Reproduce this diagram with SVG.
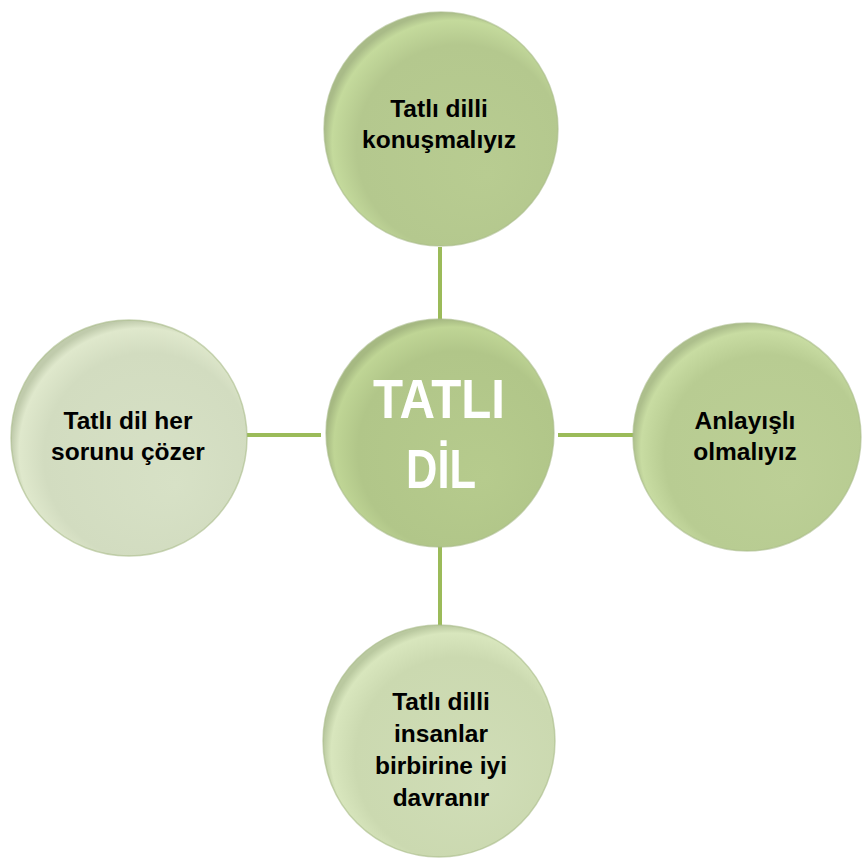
<svg xmlns="http://www.w3.org/2000/svg" width="862" height="863" viewBox="0 0 862 863">
<style>
.lbl{font-family:"Liberation Sans",Arial,sans-serif;font-weight:bold;font-size:24.5px;fill:#000;text-anchor:middle}
.big{font-family:"Liberation Sans",Arial,sans-serif;font-weight:bold;font-size:55px;fill:#fff;text-anchor:middle}
.conn{stroke:#9bbb59;stroke-width:4;fill:none}
.rim{stroke:#a9bb88;stroke-width:1.5;stroke-opacity:0.6}
</style>
<defs>
<radialGradient id="gMid" cx="0.55" cy="0.55" r="0.55" fx="0.7" fy="0.7">
<stop offset="0" stop-color="#b6cb8d"/><stop offset="0.8" stop-color="#b1c689"/><stop offset="0.95" stop-color="#bfd595"/><stop offset="1" stop-color="#a6b982"/>
</radialGradient>
<radialGradient id="gTop" cx="0.55" cy="0.55" r="0.55" fx="0.7" fy="0.7">
<stop offset="0" stop-color="#b8cc91"/><stop offset="0.8" stop-color="#b4c88e"/><stop offset="0.95" stop-color="#c4da9c"/><stop offset="1" stop-color="#a9bb88"/>
</radialGradient>
<radialGradient id="gRight" cx="0.55" cy="0.55" r="0.55" fx="0.7" fy="0.7">
<stop offset="0" stop-color="#bccf96"/><stop offset="0.8" stop-color="#b8cc92"/><stop offset="0.95" stop-color="#c8dca2"/><stop offset="1" stop-color="#adbf8c"/>
</radialGradient>
<radialGradient id="gBot" cx="0.55" cy="0.55" r="0.55" fx="0.7" fy="0.7">
<stop offset="0" stop-color="#d0ddb7"/><stop offset="0.8" stop-color="#cbd9b0"/><stop offset="0.95" stop-color="#d8e6bd"/><stop offset="1" stop-color="#bac9a0"/>
</radialGradient>
<radialGradient id="gLeft" cx="0.55" cy="0.55" r="0.55" fx="0.7" fy="0.7">
<stop offset="0" stop-color="#d7e1c6"/><stop offset="0.8" stop-color="#d2dcc0"/><stop offset="0.95" stop-color="#dfe8cc"/><stop offset="1" stop-color="#c0cbac"/>
</radialGradient>
</defs>
<g id="connectors">
<line class="conn" x1="440" y1="247" x2="440" y2="321"/>
<line class="conn" x1="440" y1="545" x2="440" y2="626"/>
<line class="conn" x1="247" y1="435" x2="321" y2="435"/>
<line class="conn" x1="558" y1="435" x2="634" y2="435"/>
</g>
<g id="node-top">
<circle class="rim" cx="441" cy="129" r="117" fill="url(#gTop)"/>
<text class="lbl" x="439" y="117">Tatlı dilli</text>
<text class="lbl" x="439" y="148">konuşmalıyız</text>
</g>
<g id="node-center">
<circle class="rim" cx="440" cy="433" r="114" fill="url(#gMid)"/>
<text class="big" x="439" y="418" textLength="132" lengthAdjust="spacingAndGlyphs">TATLI</text>
<text class="big" x="441" y="488" textLength="70" lengthAdjust="spacingAndGlyphs">DİL</text>
</g>
<g id="node-left">
<circle class="rim" cx="129" cy="438" r="118" fill="url(#gLeft)"/>
<text class="lbl" x="128" y="429">Tatlı dil her</text>
<text class="lbl" x="128" y="460">sorunu çözer</text>
</g>
<g id="node-right">
<circle class="rim" cx="747" cy="437" r="114" fill="url(#gRight)"/>
<text class="lbl" x="745" y="429">Anlayışlı</text>
<text class="lbl" x="745" y="460">olmalıyız</text>
</g>
<g id="node-bottom">
<circle class="rim" cx="439" cy="741" r="116" fill="url(#gBot)"/>
<text class="lbl" x="441" y="710">Tatlı dilli</text>
<text class="lbl" x="441" y="742">insanlar</text>
<text class="lbl" x="441" y="774">birbirine iyi</text>
<text class="lbl" x="441" y="806">davranır</text>
</g>
</svg>
